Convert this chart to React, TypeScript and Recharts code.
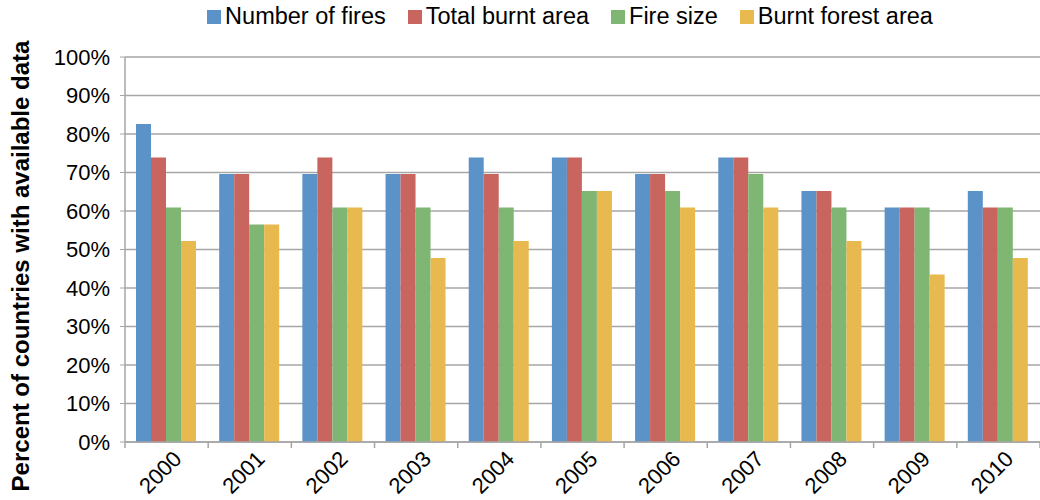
import { BarChart, Bar, XAxis, YAxis, CartesianGrid, Legend } from "recharts";

const years = ["2000", "2001", "2002", "2003", "2004", "2005", "2006", "2007", "2008", "2009", "2010"];
const numberOfFires = [82.6, 69.6, 69.6, 69.6, 73.9, 73.9, 69.6, 73.9, 65.2, 60.9, 65.2];
const totalBurntArea = [73.9, 69.6, 73.9, 69.6, 69.6, 73.9, 69.6, 73.9, 65.2, 60.9, 60.9];
const fireSize = [60.9, 56.5, 60.9, 60.9, 60.9, 65.2, 65.2, 69.6, 60.9, 60.9, 60.9];
const burntForestArea = [52.2, 56.5, 60.9, 47.8, 52.2, 65.2, 60.9, 60.9, 52.2, 43.5, 47.8];
const yTicks = [0, 10, 20, 30, 40, 50, 60, 70, 80, 90, 100];

const data = years.map((year, i) => ({
  year,
  fires: numberOfFires[i],
  burnt: totalBurntArea[i],
  size: fireSize[i],
  forest: burntForestArea[i],
}));

const font = "'Liberation Sans', Arial, sans-serif";
const axisGray = "#a6a6a6";
const band = 915 / years.length;

const YearTick = ({ x, y, payload }: any) => (
  <g>
    <line x1={x - band / 2} x2={x - band / 2} y1={442} y2={448} stroke={axisGray} strokeWidth={1.5} />
    {payload.index === years.length - 1 && (
      <line x1={x + band / 2} x2={x + band / 2} y1={442} y2={448} stroke={axisGray} strokeWidth={1.5} />
    )}
    <text
      x={x + 11}
      y={y + 5}
      transform={`rotate(-45 ${x + 11} ${y + 5})`}
      textAnchor="end"
      dominantBaseline="central"
      fontSize={22}
      fontFamily={font}
      fill="#000"
    >
      {payload.value}
    </text>
  </g>
);

const YLabel = () => (
  <text
    x={20}
    y={266}
    transform="rotate(-90 20 266)"
    textAnchor="middle"
    dominantBaseline="central"
    fontSize={24}
    fontWeight="bold"
    fontFamily={font}
    fill="#000"
  >
    Percent of countries with available data
  </text>
);

const LegendContent = ({ payload }: any) => (
  <div style={{ display: "flex", justifyContent: "center", fontFamily: font, fontSize: 23.5, color: "#000" }}>
    {(payload || []).map((entry: any) => (
      <div key={entry.value} style={{ display: "flex", alignItems: "center", margin: "0 11px" }}>
        <span style={{ width: 14, height: 14, background: entry.color, marginRight: 4, display: "inline-block" }} />
        <span>{entry.value}</span>
      </div>
    ))}
  </div>
);

const App = () => {
  return (
    <div style={{ position: "absolute", left: 0, top: 0, width: 1040, height: 500, background: "#fff" }}>
      <BarChart
        width={1040}
        height={500}
        data={data}
        margin={{ top: 30, right: 0, bottom: 0, left: 45 }}
        barCategoryGap={11}
        barGap={0}
      >
        <CartesianGrid vertical={false} stroke={axisGray} strokeWidth={1.5} />
        <XAxis
          dataKey="year"
          height={58}
          tick={<YearTick />}
          interval={0}
          axisLine={{ stroke: axisGray, strokeWidth: 1.5 }}
          tickLine={false}
        />
        <YAxis
          domain={[0, 100]}
          ticks={yTicks}
          width={80}
          tickFormatter={(v: number) => `${v}%`}
          tick={{ fontSize: 22, fill: "#000", fontFamily: font }}
          axisLine={{ stroke: axisGray, strokeWidth: 1.5 }}
          tickLine={{ stroke: axisGray }}
          tickSize={5}
          tickMargin={10}
          label={<YLabel />}
        />
        <Legend
          verticalAlign="top"
          align="center"
          itemSorter={null}
          content={<LegendContent />}
          wrapperStyle={{ top: 3, left: 120, width: 900 }}
        />
        <Bar dataKey="fires" name="Number of fires" fill="#5b93c9" isAnimationActive={false} />
        <Bar dataKey="burnt" name="Total burnt area" fill="#c9655f" isAnimationActive={false} />
        <Bar dataKey="size" name="Fire size" fill="#7fb673" isAnimationActive={false} />
        <Bar dataKey="forest" name="Burnt forest area" fill="#e7b94e" isAnimationActive={false} />
      </BarChart>
    </div>
  );
};

export default App;
